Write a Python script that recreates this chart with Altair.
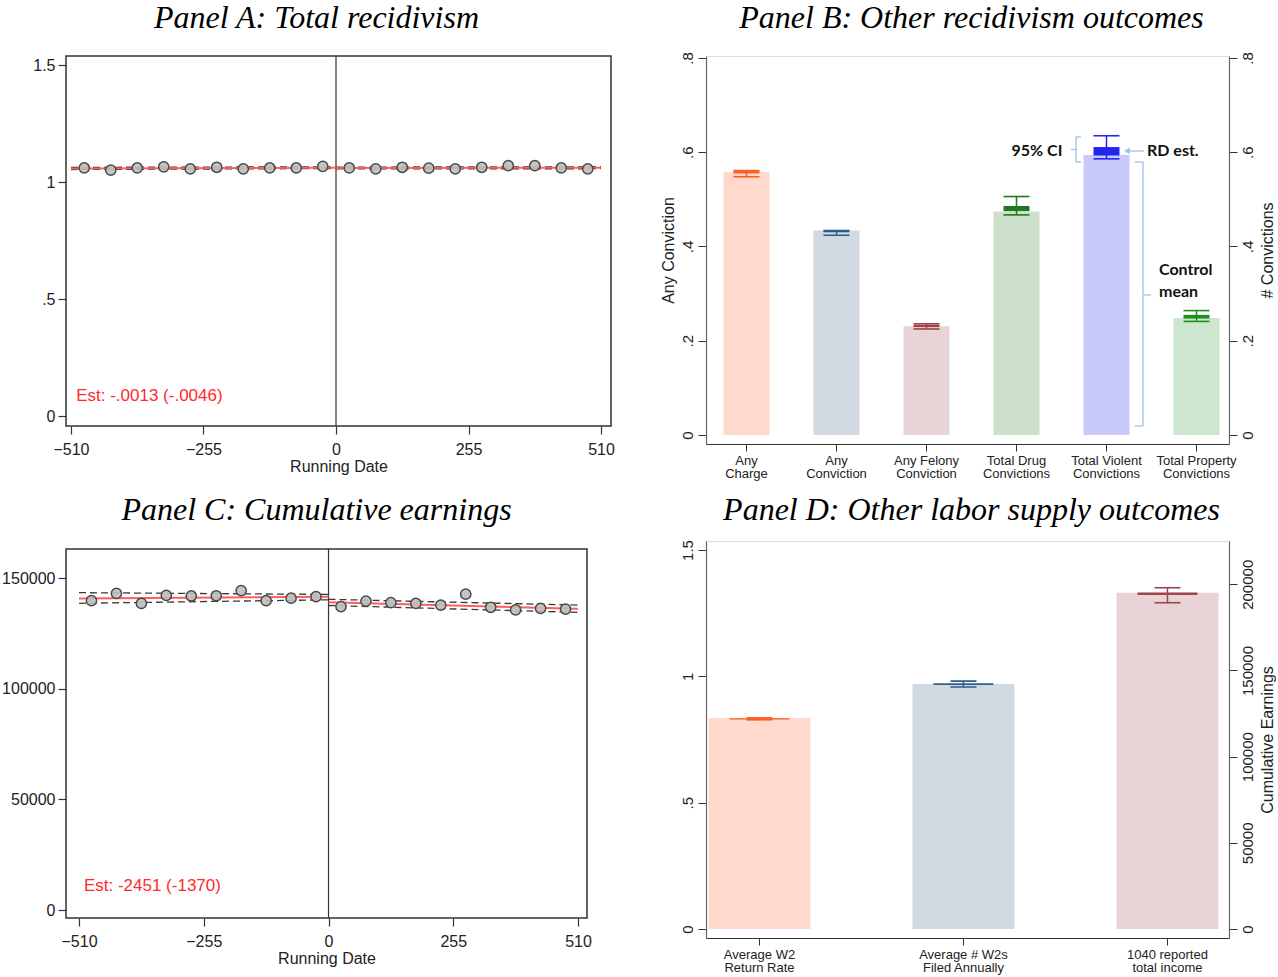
import altair as alt
import pandas as pd

# ---------------- Panel A: total recidivism (51-day bins around the cutoff) ----------------
bins_left = [-484.5, -433.5, -382.5, -331.5, -280.5, -229.5, -178.5, -127.5, -76.5, -25.5]
bins_right = [25.5, 76.5, 127.5, 178.5, 229.5, 280.5, 331.5, 382.5, 433.5, 484.5]
recid_left = [1.060, 1.051, 1.060, 1.065, 1.056, 1.063, 1.056, 1.060, 1.060, 1.067]
recid_right = [1.060, 1.056, 1.063, 1.059, 1.056, 1.063, 1.070, 1.070, 1.060, 1.056]
side_x_left = [-510, 0]
side_x_right = [0, 510]
recid_fit_left = [1.0580, 1.0613]
recid_fit_right = [1.0600, 1.0610]
recid_hi_left = [1.0625, 1.0650]
recid_lo_left = [1.0535, 1.0576]
recid_hi_right = [1.0637, 1.0652]
recid_lo_right = [1.0563, 1.0568]
recid_est = "Est: -.0013 (-.0046)"

# ---------------- Panel C: cumulative earnings ----------------
earn_left = [139800, 143100, 138600, 142200, 141900, 142000, 144300, 139800, 140900, 141600]
earn_right = [137100, 139600, 138900, 138600, 137800, 142700, 136800, 135600, 136300, 136000]
earn_fit_left = [140800, 141500]
earn_fit_right = [139049, 136100]
earn_hi_left = [143400, 142600]
earn_lo_left = [138600, 140150]
earn_hi_right = [140400, 137800]
earn_lo_right = [137600, 134500]
earn_est = "Est: -2451 (-1370)"

# ---------------- Panel B: other recidivism outcomes ----------------
b_outcomes = ["Any\nCharge", "Any\nConviction", "Any Felony\nConviction",
              "Total Drug\nConvictions", "Total Violent\nConvictions", "Total Property\nConvictions"]
b_control_mean = [0.558, 0.434, 0.231, 0.474, 0.594, 0.248]
b_box_lo = [0.555, 0.430, 0.229, 0.475, 0.593, 0.247]
b_box_hi = [0.560, 0.434, 0.234, 0.486, 0.611, 0.255]
b_ci_lo = [0.548, 0.424, 0.225, 0.467, 0.586, 0.241]
b_ci_hi = [0.561, 0.434, 0.236, 0.506, 0.635, 0.264]
b_axis_side = ["left", "left", "left", "right", "right", "right"]
b_fills = ["#FFD9CC", "#D1D9E2", "#E8D4D6", "#CCE0CC", "#C9C9FB", "#CDE6CD"]
b_inks = ["#FF5A1F", "#2F5D8A", "#A0434C", "#1F7A1F", "#2424F0", "#1F8F1F"]

# ---------------- Panel D: other labor supply outcomes ----------------
d_outcomes = ["Average W2\nReturn Rate", "Average # W2s\nFiled Annually", "1040 reported\ntotal income"]
d_control_mean = [0.835, 0.970, 195100]
d_box_lo = [0.829, 0.966, 193800]
d_box_hi = [0.834, 0.973, 195200]
d_ci_lo = [0.828, 0.958, 189300]
d_ci_hi = [0.836, 0.981, 198000]
d_axis_side = ["left", "left", "right"]
d_fills = ["#FFD9CC", "#D1D9E2", "#E8D4D6"]
d_inks = ["#FF5A1F", "#3D6088", "#A3434C"]

FONT = "Liberation Sans"
SERIF = "Liberation Serif"
BOLD = "Lato"
INK = "#222222"
FRAME = "#333333"
ANN = "#9DC3E6"
EST_RED = "#FF2A2A"
DEC = ("datum.value == 0 ? '0' : (datum.value < 1 ? "
       "replace(toString(datum.value), '0.', '.') : toString(datum.value))")
ONE = pd.DataFrame({"k": [0]})


def panel_title(text, dx, offset):
    return alt.TitleParams(text, font=SERIF, fontSize=32, fontStyle="italic",
                           fontWeight="normal", color="#000000", anchor="middle",
                           frame="group", dx=dx, offset=offset)


def lines_frame(parts):
    rows = []
    for name, xs, ys in parts:
        for x, y in zip(xs, ys):
            rows.append({"date": x, "value": y, "seg": name})
    return pd.DataFrame(rows)


def rd_panel(y_left, y_right, fit_l, fit_r, hi_l, lo_l, hi_r, lo_r, est_text,
             est_at, x_dom, y_dom, y_ticks, y_expr, width, height, title):
    pts = pd.DataFrame({"date": bins_left + bins_right, "value": y_left + y_right})
    fit = lines_frame([("fl", side_x_left, fit_l), ("fr", side_x_right, fit_r)])
    band = lines_frame([("hl", side_x_left, hi_l), ("ll", side_x_left, lo_l),
                        ("hr", side_x_right, hi_r), ("lr", side_x_right, lo_r)])
    xs = alt.Scale(domain=x_dom, nice=False, zero=False)
    ys = alt.Scale(domain=y_dom, nice=False, zero=False)
    xa = alt.Axis(values=[-510, -255, 0, 255, 510], format="d", title="Running Date",
                  labelFont=FONT, labelFontSize=16, labelColor=INK, labelPadding=7,
                  titleFont=FONT, titleFontSize=16, titleFontWeight="normal",
                  titleColor=INK, titlePadding=1, tickSize=8, tickColor=FRAME,
                  tickWidth=1.2, domain=False, grid=False)
    ya = alt.Axis(values=y_ticks, labelExpr=y_expr, title=None, labelFont=FONT,
                  labelFontSize=16, labelColor=INK, labelPadding=3, tickSize=8,
                  tickColor=FRAME, tickWidth=1.2, domain=False, grid=False)
    X = lambda f: alt.X(f, type="quantitative", scale=xs, axis=xa)
    Y = lambda f: alt.Y(f, type="quantitative", scale=ys, axis=ya)

    cutoff = alt.Chart(ONE).mark_rule(color=FRAME, strokeWidth=1.2).encode(
        x=alt.XDatum(0, scale=xs, axis=xa))
    dashed = alt.Chart(band).mark_line(color="#3A3A3A", strokeWidth=1.3,
                                       strokeDash=[7, 4]).encode(
        x=X("date"), y=Y("value"), detail="seg:N")
    fitted = alt.Chart(fit).mark_line(color="#FF5C5C", strokeWidth=2).encode(
        x=X("date"), y=Y("value"), detail="seg:N")
    dots = alt.Chart(pts).mark_circle(size=105, fill="#BEBEBE", fillOpacity=0.9,
                                      stroke="#4A4A4A", strokeWidth=1.5, opacity=1).encode(
        x=X("date"), y=Y("value"))
    est = alt.Chart(ONE).mark_text(align="left", baseline="middle", font=FONT,
                                   fontSize=17, color=EST_RED).encode(
        x=alt.XDatum(est_at[0], scale=xs, axis=xa),
        y=alt.YDatum(est_at[1], scale=ys, axis=ya),
        text=alt.value(est_text))
    return alt.layer(cutoff, dashed, fitted, dots, est).properties(
        width=width, height=height, title=title,
        view=alt.ViewBackground(stroke=FRAME, strokeWidth=1.5))


def bar_panel(outcomes, means, box_lo, box_hi, ci_lo, ci_hi, sides, fills, inks,
              left_dom, left_ticks, left_title, right_dom, right_ticks, right_title,
              right_expr, width, height, pad_inner, pad_outer, band_align, box_w,
              cap_w, title, annotate=None):
    df = pd.DataFrame({"outcome": outcomes, "mean": means, "box_lo": box_lo,
                       "box_hi": box_hi, "ci_lo": ci_lo, "ci_hi": ci_hi, "side": sides})
    xs = alt.Scale(type="band", domain=outcomes, paddingInner=pad_inner,
                   paddingOuter=pad_outer, align=band_align)
    xa = alt.Axis(title=None, labelAngle=0, labelExpr="split(datum.label, '\\n')",
                  labelFont=FONT, labelFontSize=13, labelLineHeight=13,
                  labelColor=INK, labelPadding=3, labelBaseline="top", tickSize=7,
                  tickColor=FRAME, domainColor=FRAME, domainWidth=1.2)
    X = alt.X("outcome:N", scale=xs, axis=xa)
    FILL = alt.Fill("outcome:N", scale=alt.Scale(domain=outcomes, range=fills), legend=None)
    COL = alt.Color("outcome:N", scale=alt.Scale(domain=outcomes, range=inks), legend=None)

    def side_axis(orient, ticks, ttl, expr):
        return alt.Axis(orient=orient, values=ticks, labelExpr=expr, title=ttl,
                        labelAngle=270, labelAlign="center",
                        labelBaseline="bottom" if orient == "left" else "top",
                        labelFont=FONT, labelFontSize=15, labelColor=INK, labelPadding=3,
                        titleFont=FONT, titleFontSize=16, titleFontWeight="normal",
                        titleColor=INK, titleAngle=270,
                        titleBaseline="bottom" if orient == "left" else "top",
                        titlePadding=4, tickSize=8, tickColor=FRAME, domainColor="#666666",
                        domainWidth=1.2, grid=False)

    def group(side, ys, ya, extra):
        d = df[df["side"] == side]
        Y = lambda f: alt.Y(f, type="quantitative", scale=ys, axis=ya)
        bars = alt.Chart(d).mark_bar().encode(x=X, y=Y("mean"), fill=FILL)
        stem = alt.Chart(d).mark_rule(strokeWidth=1.5).encode(
            x=X, y=Y("ci_lo"), y2="ci_hi", color=COL)
        cap_lo = alt.Chart(d).mark_tick(size=cap_w, thickness=1.6, opacity=1).encode(
            x=X, y=Y("ci_lo"), color=COL)
        cap_hi = alt.Chart(d).mark_tick(size=cap_w, thickness=1.6, opacity=1).encode(
            x=X, y=Y("ci_hi"), color=COL)
        box = alt.Chart(d).mark_bar(width=box_w).encode(
            x=X, y=Y("box_lo"), y2="box_hi", color=COL)
        return alt.layer(bars, stem, cap_lo, cap_hi, box, *extra)

    ys_l = alt.Scale(domain=left_dom, nice=False, zero=False)
    ys_r = alt.Scale(domain=right_dom, nice=False, zero=False)
    ya_l = side_axis("left", left_ticks, left_title, DEC)
    ya_r = side_axis("right", right_ticks, right_title, right_expr)
    extra = annotate(ys_l, ya_l) if annotate else []
    return alt.layer(group("left", ys_l, ya_l, extra),
                     group("right", ys_r, ya_r, [])).resolve_scale(
        y="independent").properties(width=width, height=height, title=title)


def b_notes(ys, ya):
    """Callouts explaining the bar, box and whiskers."""
    def Yd(v):
        return alt.YDatum(v, scale=ys, axis=ya)

    def hseg(x1, x2, y):
        return alt.Chart(ONE).mark_rule(color=ANN, strokeWidth=1.3).encode(
            x=alt.value(x1), x2=alt.value(x2), y=Yd(y))

    def vseg(x, y1, y2):
        return alt.Chart(ONE).mark_rule(color=ANN, strokeWidth=1.3).encode(
            x=alt.value(x), y=Yd(y1), y2=alt.Y2Datum(y2))

    def label(x, y, txt, align):
        return alt.Chart(ONE).mark_text(font=BOLD, fontWeight="bold", fontSize=16,
                                        align=align, baseline="middle",
                                        color="#111111").encode(
            x=alt.value(x), y=Yd(y), text=alt.value(txt))

    arrow_head = alt.Chart(ONE).mark_point(shape="triangle-left", filled=True, size=45,
                                           color=ANN, opacity=1).encode(
        x=alt.value(421), y=Yd(0.6027))
    return [
        # brace around the 95% CI whiskers
        vseg(370, 0.6324, 0.5793), hseg(370, 375, 0.6324), hseg(370, 375, 0.5793),
        hseg(365, 370, 0.6058), label(331, 0.6027, "95% CI", "center"),
        # arrow to the RD estimate box
        hseg(424, 438, 0.6027), arrow_head, label(441, 0.6027, "RD est.", "left"),
        # bracket spanning the control-mean bar
        vseg(437, 0.5793, 0.0191), hseg(429, 437, 0.5793), hseg(429, 437, 0.0191),
        hseg(437, 445, 0.2971), label(453, 0.3501, "Control", "left"),
        label(453, 0.3034, "mean", "left"),
    ]


panel_a = rd_panel(recid_left, recid_right, recid_fit_left, recid_fit_right,
                   recid_hi_left, recid_lo_left, recid_hi_right, recid_lo_right,
                   recid_est, (-500, 0.085), [-519.6, 529.2], [-0.0427, 1.5385],
                   [0, 0.5, 1, 1.5], DEC, 545, 370,
                   panel_title("Panel A: Total recidivism", -22, 20))

panel_c = rd_panel(earn_left, earn_right, earn_fit_left, earn_fit_right,
                   earn_hi_left, earn_lo_left, earn_hi_right, earn_lo_right,
                   earn_est, (-500, 10800), [-536.6, 528.4], [-3615, 163130],
                   [0, 50000, 100000, 150000], "format(datum.value, 'd')", 521, 369,
                   panel_title("Panel C: Cumulative earnings", -10, 21))

panel_b = bar_panel(b_outcomes, b_control_mean, b_box_lo, b_box_hi, b_ci_lo, b_ci_hi,
                    b_axis_side, b_fills, b_inks,
                    [-0.0191, 0.8042], [0, 0.2, 0.4, 0.6, 0.8], "Any Conviction",
                    [-0.0191, 0.8042], [0, 0.2, 0.4, 0.6, 0.8], "# Convictions", DEC,
                    523, 388, 0.4889, 0.15, 0.648, 26, 26,
                    panel_title("Panel B: Other recidivism outcomes", 4, 17),
                    annotate=b_notes)

panel_d = bar_panel(d_outcomes, d_control_mean, d_box_lo, d_box_hi, d_ci_lo, d_ci_hi,
                    d_axis_side, d_fills, d_inks,
                    [-0.0356, 1.5356], [0, 0.5, 1, 1.5], None,
                    [-5222, 225123], [0, 50000, 100000, 150000, 200000],
                    "Cumulative Earnings", "format(datum.value, 'd')",
                    523, 397, 0.5, 0.0319, 0.19, 60, 26,
                    panel_title("Panel D: Other labor supply outcomes", 4, 13))

left_col = alt.vconcat(panel_a, panel_c, spacing=18)
right_col = alt.concat(panel_b, panel_d, columns=1, align="none", spacing=12)

chart = alt.concat(left_col, right_col, columns=2, align="none", spacing=43).properties(
    padding={"left": 0, "top": 1, "right": 0, "bottom": 0}
).configure_view(stroke=None).configure(background="white")

chart.save("out.html", embed_options={"renderer": "svg", "actions": False})
